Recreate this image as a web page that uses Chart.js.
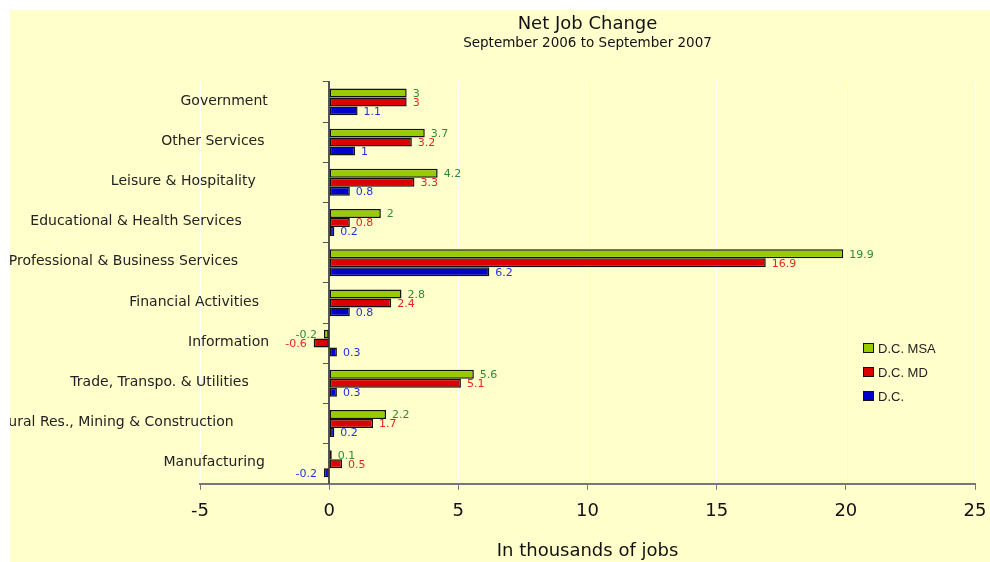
<!DOCTYPE html>
<html>
<head>
<title>Net Job Change</title>
<style>
  html, body { margin: 0; padding: 0; background: #fff; }
  #chart { display: block; }
</style>
</head>
<body>
<canvas id="chart" width="990" height="562"></canvas>
<script src="https://cdn.jsdelivr.net/npm/chart.js"></script>
<script>
  // categories, top to bottom
  const categories = [
    'Government',
    'Other Services',
    'Leisure & Hospitality',
    'Educational & Health Services',
    'Professional & Business Services',
    'Financial Activities',
    'Information',
    'Trade, Transpo. & Utilities',
    'Natural Res., Mining & Construction',
    'Manufacturing'
  ];
  const seriesNames = ['D.C. MSA', 'D.C. MD', 'D.C.'];
  const msaValues = [3, 3.7, 4.2, 2, 19.9, 2.8, -0.2, 5.6, 2.2, 0.1];
  const mdValues  = [3, 3.2, 3.3, 0.8, 16.9, 2.4, -0.6, 5.1, 1.7, 0.5];
  const dcValues  = [1.1, 1, 0.8, 0.2, 6.2, 0.8, 0.3, 0.3, 0.2, -0.2];
  const xTickValues = [-5, 0, 5, 10, 15, 20, 25];

  const barColors = ['#99cc00', '#dd0000', '#0000cc'];
  const labelColors = ['#2f8a35', '#ee2222', '#2233dd'];

  // yellow panel behind everything
  const panelPlugin = {
    id: 'panel',
    beforeDraw(chart) {
      const ctx = chart.ctx;
      ctx.save();
      ctx.fillStyle = '#ffffff';
      ctx.fillRect(0, 0, chart.width, chart.height);
      ctx.fillStyle = '#ffffcc';
      ctx.fillRect(10, 10, chart.width - 10, chart.height - 10);
      ctx.restore();
    }
  };

  // category labels, placed left of the zero axis
  const categoryLabelPlugin = {
    id: 'categoryLabels',
    afterDraw(chart) {
      const ctx = chart.ctx;
      const ys = chart.scales.y;
      const axisX = chart.scales.x.getPixelForValue(0);
      ctx.save();
      ctx.beginPath();
      ctx.rect(10, 10, chart.width - 10, chart.height - 10);
      ctx.clip();
      ctx.font = '14px "DejaVu Sans"';
      ctx.fillStyle = '#222';
      ctx.textAlign = 'right';
      ctx.textBaseline = 'middle';
      ys.ticks.forEach((t, i) => {
        const label = categories[i];
        const w = ctx.measureText(label).width;
        ctx.fillText(label, axisX - 43 - 0.21 * w, ys.getPixelForTick(i) - 1);
      });
      ctx.restore();
    }
  };

  // value labels at the end of each bar
  const valueLabelPlugin = {
    id: 'valueLabels',
    afterDatasetsDraw(chart) {
      const ctx = chart.ctx;
      ctx.save();
      ctx.font = '11px "DejaVu Sans"';
      ctx.textBaseline = 'middle';
      chart.data.datasets.forEach((ds, di) => {
        const meta = chart.getDatasetMeta(di);
        ctx.fillStyle = labelColors[di];
        meta.data.forEach((bar, i) => {
          const v = ds.data[i];
          const neg = v < 0;
          ctx.textAlign = neg ? 'right' : 'left';
          ctx.fillText(String(v), bar.x + (neg ? -7 : 6), bar.y + 1);
        });
      });
      ctx.restore();
    }
  };

  // legend inside the plot, lower right
  const legendPlugin = {
    id: 'boxLegend',
    afterDraw(chart) {
      const ctx = chart.ctx;
      const left = 863, top = 348, step = 24;
      ctx.save();
      ctx.font = '13px "Liberation Sans", Arial, sans-serif';
      ctx.textAlign = 'left';
      ctx.textBaseline = 'middle';
      chart.data.datasets.forEach((ds, i) => {
        const cy = top + i * step;
        ctx.fillStyle = ds.backgroundColor;
        ctx.fillRect(left, cy - 5, 11, 10);
        ctx.strokeStyle = '#111';
        ctx.lineWidth = 1;
        ctx.strokeRect(left + 0.5, cy - 4.5, 10, 9);
        ctx.fillStyle = '#222';
        ctx.fillText(ds.label, left + 15, cy + 1);
      });
      ctx.restore();
    }
  };

  const allSeries = [msaValues, mdValues, dcValues];

  new Chart(document.getElementById('chart'), {
    type: 'bar',
    data: {
      labels: categories,
      datasets: allSeries.map((vals, i) => ({
        label: seriesNames[i],
        data: vals,
        backgroundColor: barColors[i],
        borderColor: '#111',
        borderWidth: 1.5,
        borderSkipped: false,
        categoryPercentage: 0.67,
        barPercentage: 1.0
      }))
    },
    options: {
      indexAxis: 'y',
      responsive: false,
      animation: false,
      devicePixelRatio: 1,
      layout: { padding: { left: 200, right: 15, top: 0, bottom: 0 } },
      plugins: {
        legend: { display: false },
        tooltip: { enabled: false },
        title: {
          display: true,
          text: 'Net Job Change',
          color: '#111',
          font: { family: '"DejaVu Sans"', size: 18, weight: 'normal' },
          padding: { top: 14, bottom: 0 }
        },
        subtitle: {
          display: true,
          text: 'September 2006 to September 2007',
          color: '#111',
          font: { family: '"DejaVu Sans"', size: 13.5, weight: 'normal' },
          padding: { top: 0, bottom: 30 }
        }
      },
      scales: {
        x: {
          type: 'linear',
          min: xTickValues[0],
          max: xTickValues[xTickValues.length - 1],
          afterFit(scale) {
            // keep the plot reaching to x = 975 like the original
            scale.paddingRight = 12;
          },
          ticks: {
            stepSize: xTickValues[1] - xTickValues[0],
            color: '#111',
            padding: 11,
            font: { family: '"DejaVu Sans"', size: 18 }
          },
          grid: {
            color: '#ffffff',
            lineWidth: 1,
            tickColor: '#777',
            tickLength: 6
          },
          border: { color: '#777', width: 2 },
          title: {
            display: true,
            text: 'In thousands of jobs',
            color: '#111',
            font: { family: '"DejaVu Sans"', size: 18 },
            padding: { top: 7, bottom: 0 }
          }
        },
        y: {
          type: 'category',
          position: { x: 0 },
          offset: true,
          ticks: { display: false },
          grid: {
            drawOnChartArea: false,
            offset: true,
            tickColor: '#555',
            tickLength: 5
          },
          border: { color: '#555', width: 2 }
        }
      }
    },
    plugins: [panelPlugin, categoryLabelPlugin, valueLabelPlugin, legendPlugin]
  });
</script>
</body>
</html>
